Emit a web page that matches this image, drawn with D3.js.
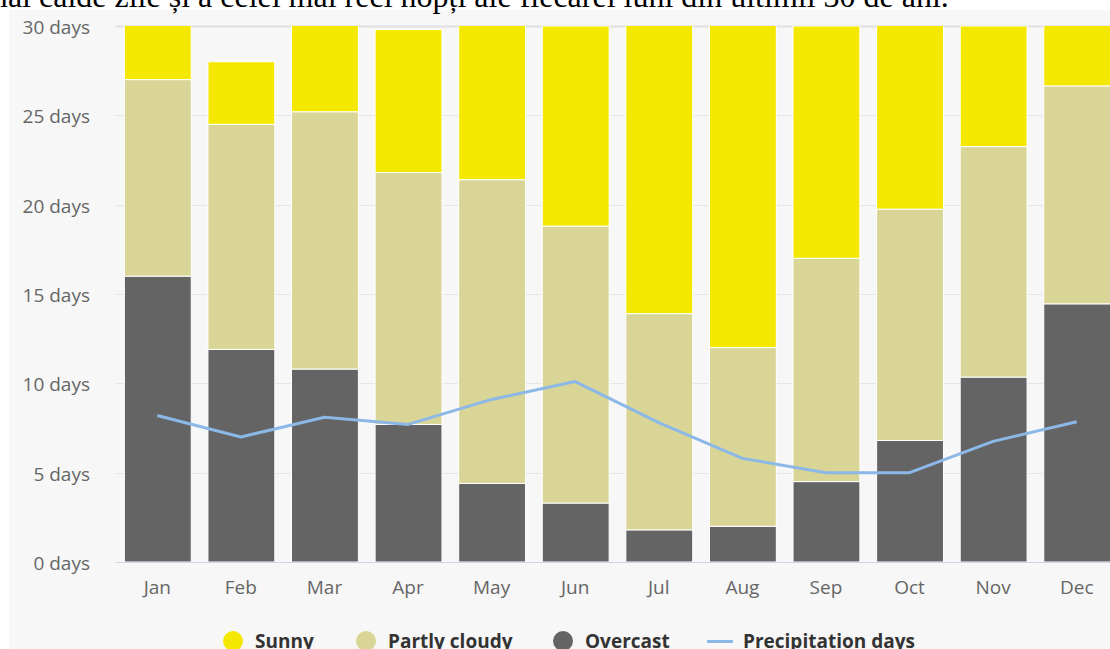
<!DOCTYPE html>
<html><head><meta charset="utf-8">
<script src="https://cdn.jsdelivr.net/npm/d3@7"></script>
<style>
html,body{margin:0;padding:0;background:#fff;overflow:hidden;}
svg{display:block;}
</style></head>
<body>
<svg id="c" width="1110" height="649"></svg>
<script>
const months = ["Jan","Feb","Mar","Apr","May","Jun","Jul","Aug","Sep","Oct","Nov","Dec"];
const overcast = [16.0, 11.9, 10.8, 7.7, 4.4, 3.3, 1.8, 2.0, 4.5, 6.8, 10.35, 14.45];
const partlyCloudy = [11.0, 12.6, 14.4, 14.1, 17.0, 15.5, 12.1, 10.0, 12.5, 12.95, 12.9, 12.2];
const sunny = [4.0, 3.5, 5.8, 8.0, 9.6, 11.2, 17.1, 19.0, 13.0, 11.25, 6.75, 4.35];
const precipitation = [8.2, 7.0, 8.1, 7.7, 9.1, 10.1, 7.8, 5.8, 5.0, 5.0, 6.75, 7.85];
const yTicks = [0, 5, 10, 15, 20, 25, 30];
const seriesNames = ["Sunny", "Partly cloudy", "Overcast", "Precipitation days"];
const caption = "mai calde zile și a celei mai reci nopți ale fiecărei luni din ultimii 30 de ani.";

const colors = {Sunny:"#f5e800", "Partly cloudy":"#d8d596", Overcast:"#646464", "Precipitation days":"#8cb8e8"};
const svg = d3.select("#c");
const font = "'Open Sans', sans-serif";

// panel background
svg.append("rect").attr("x",9).attr("y",10).attr("width",1110).attr("height",660).attr("fill","#f7f7f7");

// caption (clipped at top)
svg.append("text").attr("x",-17).attr("y",7).attr("font-family","'Liberation Serif', serif")
  .attr("font-size",32).attr("fill","#000").text(caption);

const pLeft = 115.5, pRight = 1118.5, pTop = 26, pBottom = 562;
const x = d3.scaleBand().domain(months).range([pLeft, pRight]).paddingInner(0.2).paddingOuter(0.1);
const y = d3.scaleLinear().domain([0,30]).range([pBottom, pTop]);

// grid
svg.append("g").selectAll("line").data(yTicks).join("line")
  .attr("x1",pLeft).attr("x2",1110).attr("y1",d=>Math.round(y(d))+0.5).attr("y2",d=>Math.round(y(d))+0.5)
  .attr("stroke",d=>d===30?"#e0e0e0":"#e6e6e6").attr("stroke-width",d=>d===30?2:1);

// y labels
svg.append("g").selectAll("text").data(yTicks).join("text")
  .attr("x",90).attr("y",d=>y(d)+8).attr("text-anchor","end")
  .attr("font-family",font).attr("font-size",19).attr("fill","#666")
  .text(d=>d+" days");

// stacked data
const rows = months.map((m,i)=>({month:m, Overcast:overcast[i], "Partly cloudy":partlyCloudy[i], Sunny:sunny[i]}));
const stack = d3.stack().keys(["Overcast","Partly cloudy","Sunny"])(rows);

svg.append("clipPath").attr("id","plotclip").append("rect")
  .attr("x",pLeft).attr("y",pTop).attr("width",pRight-pLeft).attr("height",pBottom-pTop+1);

const bars = svg.append("g").attr("clip-path","url(#plotclip)");
bars.selectAll("g").data(stack).join("g").attr("fill",s=>colors[s.key])
  .selectAll("rect").data(s=>s).join("rect")
  .attr("x",d=>x(d.data.month)+0.5)
  .attr("y",d=>y(d[1]))
  .attr("width",x.bandwidth())
  .attr("height",d=>y(d[0])-y(d[1]))
  .attr("stroke","#fff").attr("stroke-width",1);

// x axis line
svg.append("line").attr("x1",pLeft).attr("x2",1110).attr("y1",pBottom+0.5).attr("y2",pBottom+0.5)
  .attr("stroke","#ccd6eb").attr("stroke-width",1);

// x labels
svg.append("g").selectAll("text").data(months).join("text")
  .attr("x",d=>x(d)+x.bandwidth()/2).attr("y",594).attr("text-anchor","middle")
  .attr("font-family",font).attr("font-size",19).attr("fill","#666").text(d=>d);

// precipitation line
const line = d3.line().x((d,i)=>x(months[i])+x.bandwidth()/2).y(d=>y(d));
svg.append("path").datum(precipitation).attr("d",line).attr("fill","none")
  .attr("stroke",colors["Precipitation days"]).attr("stroke-width",3).attr("stroke-linejoin","round");

// legend
const legendX = [233, 366, 563, 720];
const lg = svg.append("g");
seriesNames.forEach((n,i)=>{
  const g = lg.append("g");
  if (i<3) {
    g.append("circle").attr("cx",legendX[i]).attr("cy",641).attr("r",10).attr("fill",colors[n]);
  } else {
    g.append("rect").attr("x",707).attr("y",640).attr("width",26).attr("height",3).attr("fill",colors[n]);
  }
  g.append("text").attr("x",[255,388,585,743][i]).attr("y",648)
    .attr("font-family",font).attr("font-weight","bold").attr("font-size",19).attr("fill","#333").text(n);
});
</script>
</body></html>
